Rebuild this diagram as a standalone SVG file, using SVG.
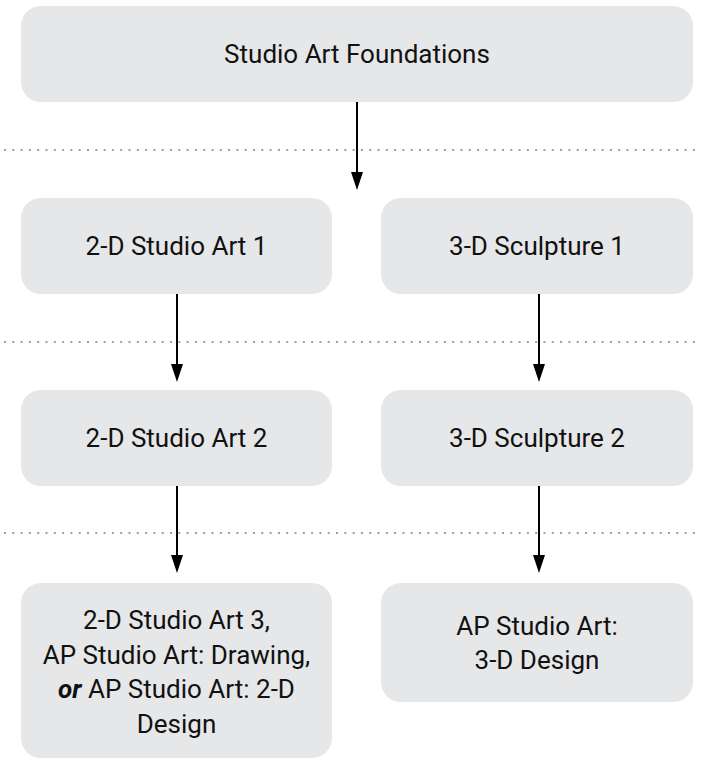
<svg xmlns="http://www.w3.org/2000/svg" width="701" height="759" viewBox="0 0 701 759">
<style>
.box{fill:#e6e7e8}
.t{font-family:Roboto,"Liberation Sans",sans-serif;font-size:26px;fill:#111;text-anchor:middle}
.dot{stroke:#a0a0a0;stroke-width:2;stroke-dasharray:2 6.3;fill:none}
.ln{stroke:#000;stroke-width:2;fill:none}
.hd{fill:#000}
</style>
<g id="separators">
<line class="dot" x1="4" y1="150" x2="701" y2="150"/>
<line class="dot" x1="4" y1="342" x2="701" y2="342"/>
<line class="dot" x1="4" y1="533" x2="701" y2="533"/>
</g>
<g id="connectors">
<path class="ln" d="M357,102 V176"/>
<path class="hd" d="M351,172 L363,172 L357,190 Z"/>
<path class="ln" d="M177,294 V368"/>
<path class="hd" d="M171,364 L183,364 L177,382 Z"/>
<path class="ln" d="M539,294 V368"/>
<path class="hd" d="M533,364 L545,364 L539,382 Z"/>
<path class="ln" d="M177,486 V559"/>
<path class="hd" d="M171,555 L183,555 L177,573 Z"/>
<path class="ln" d="M539,486 V559"/>
<path class="hd" d="M533,555 L545,555 L539,573 Z"/>
</g>
<g id="n-foundations">
<rect class="box" x="21" y="6" width="672" height="96" rx="20"/>
<text class="t" x="357" y="63">Studio Art Foundations</text>
</g>
<g id="n-2d1">
<rect class="box" x="21" y="198" width="311" height="96" rx="20"/>
<text class="t" x="176.5" y="255">2-D Studio Art 1</text>
</g>
<g id="n-3d1">
<rect class="box" x="381" y="198" width="312" height="96" rx="20"/>
<text class="t" x="537" y="255">3-D Sculpture 1</text>
</g>
<g id="n-2d2">
<rect class="box" x="21" y="390" width="311" height="96" rx="20"/>
<text class="t" x="176.5" y="447">2-D Studio Art 2</text>
</g>
<g id="n-3d2">
<rect class="box" x="381" y="390" width="312" height="96" rx="20"/>
<text class="t" x="537" y="447">3-D Sculpture 2</text>
</g>
<g id="n-2d3">
<rect class="box" x="21" y="583" width="311" height="175" rx="20"/>
<text class="t" x="176.5" y="629">2-D Studio Art 3,</text>
<text class="t" x="176.5" y="664">AP Studio Art: Drawing,</text>
<text class="t" x="176.5" y="698"><tspan font-weight="bold" font-style="italic">or</tspan> AP Studio Art: 2-D</text>
<text class="t" x="176.5" y="733">Design</text>
</g>
<g id="n-ap3d">
<rect class="box" x="381" y="583" width="312" height="119" rx="20"/>
<text class="t" x="537" y="635">AP Studio Art:</text>
<text class="t" x="537" y="669">3-D Design</text>
</g>
</svg>
